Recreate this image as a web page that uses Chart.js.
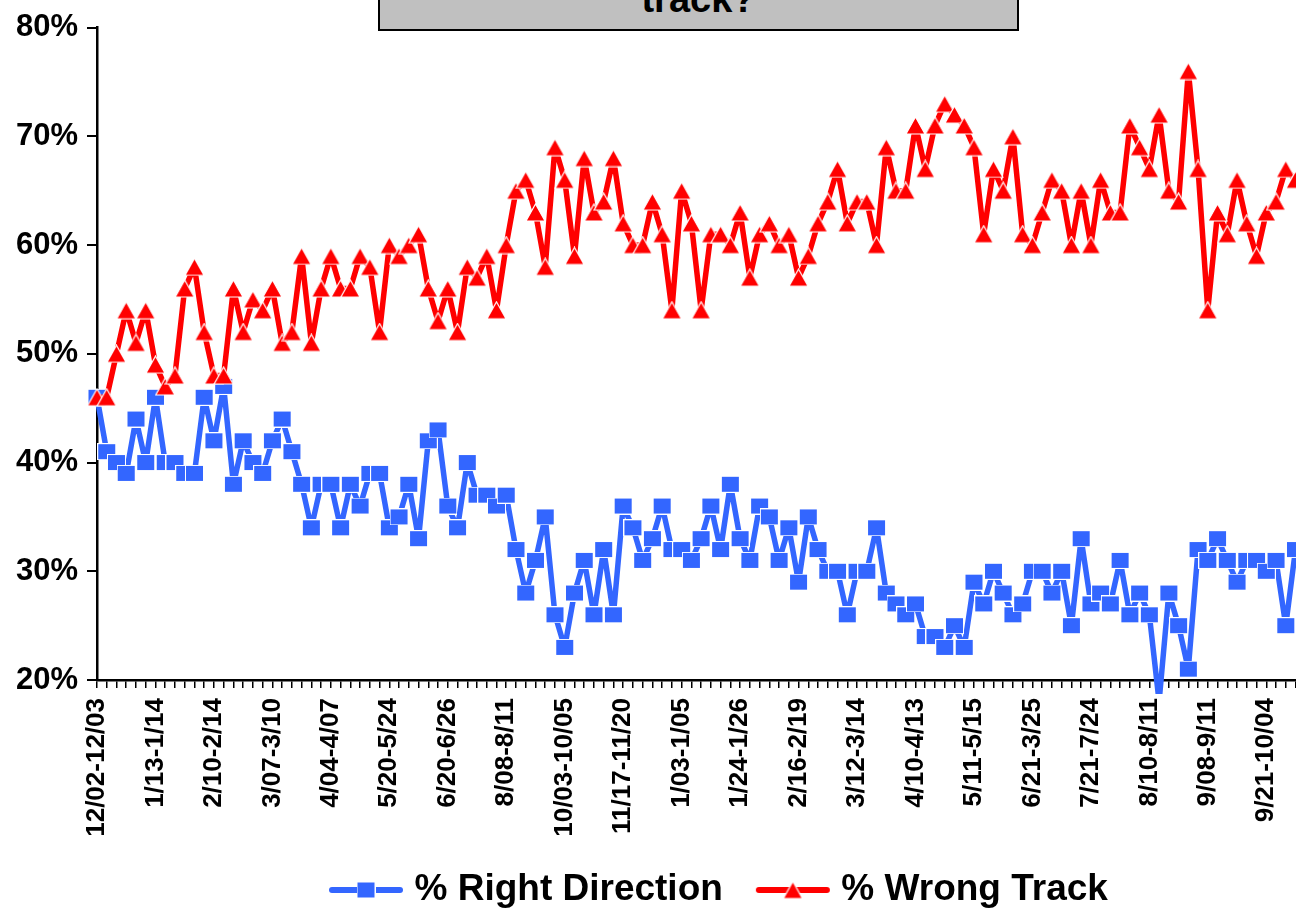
<!DOCTYPE html>
<html>
<head>
<meta charset="utf-8">
<title>Right Direction / Wrong Track</title>
<script src="https://cdn.jsdelivr.net/npm/chart.js@4.4.1/dist/chart.umd.min.js"></script>
<style>
  html, body { margin: 0; padding: 0; background: #fff; overflow: hidden; }
  #wrap { position: relative; width: 1296px; height: 909px; overflow: hidden; }
  #trackChart { position: absolute; left: 0; top: 0; }
  .title-box {
    position: absolute; left: 378px; top: -30px; width: 641px; height: 61px;
    box-sizing: border-box; background: #c0c0c0; border: 2px solid #000;
    font: bold 38px "Liberation Sans", Arial, sans-serif; color: #000; text-align: center;
  }
  .title-box span { position: absolute; left: 0; right: 0; bottom: 10px; line-height: 40px; }
</style>
</head>
<body>
<div id="wrap">
  <canvas id="trackChart" width="1310" height="909"></canvas>
  <div class="title-box"><span>track?</span></div>
</div>
<script>
// --- data ---
const tickLabels = [
  '12/02-12/03', '1/13-1/14', '2/10-2/14', '3/07-3/10', '4/04-4/07', '5/20-5/24',
  '6/20-6/26', '8/08-8/11', '10/03-10/05', '11/17-11/20', '1/03-1/05', '1/24-1/26',
  '2/16-2/19', '3/12-3/14', '4/10-4/13', '5/11-5/15', '6/21-3/25', '7/21-7/24',
  '8/10-8/11', '9/08-9/11', '9/21-10/04'
];
const labelEvery = 6; // one date label on every 6th poll

const rightDirection = [
  46, 41, 40, 39, 44, 40, 46, 40, 40, 39,
  39, 46, 42, 47, 38, 42, 40, 39, 42, 44,
  41, 38, 34, 38, 38, 34, 38, 36, 39, 39,
  34, 35, 38, 33, 42, 43, 36, 34, 40, 37,
  37, 36, 37, 32, 28, 31, 35, 26, 23, 28,
  31, 26, 32, 26, 36, 34, 31, 33, 36, 32,
  32, 31, 33, 36, 32, 38, 33, 31, 36, 35,
  31, 34, 29, 35, 32, 30, 30, 26, 30, 30,
  34, 28, 27, 26, 27, 24, 24, 23, 25, 23,
  29, 27, 30, 28, 26, 27, 30, 30, 28, 30,
  25, 33, 27, 28, 27, 31, 26, 28, 26, 18,
  28, 25, 21, 32, 31, 33, 31, 29, 31, 31,
  30, 31, 25, 32
];

const wrongTrack = [
  46, 46, 50, 54, 51, 54, 49, 47, 48, 56,
  58, 52, 48, 48, 56, 52, 55, 54, 56, 51,
  52, 59, 51, 56, 59, 56, 56, 59, 58, 52,
  60, 59, 60, 61, 56, 53, 56, 52, 58, 57,
  59, 54, 60, 65, 66, 63, 58, 69, 66, 59,
  68, 63, 64, 68, 62, 60, 60, 64, 61, 54,
  65, 62, 54, 61, 61, 60, 63, 57, 61, 62,
  60, 61, 57, 59, 62, 64, 67, 62, 64, 64,
  60, 69, 65, 65, 71, 67, 71, 73, 72, 71,
  69, 61, 67, 65, 70, 61, 60, 63, 66, 65,
  60, 65, 60, 66, 63, 63, 71, 69, 67, 72,
  65, 64, 76, 67, 54, 63, 61, 66, 62, 59,
  63, 64, 67, 66
];

const seriesNames = ['% Right Direction', '% Wrong Track'];

document.addEventListener('DOMContentLoaded', () => {

  const BLUE = '#3366ff';
  const RED = '#ff0000';
  const FONT = "'Liberation Sans', Arial, sans-serif";

  // category names: date label on every 6th poll, blank in between
  const categories = rightDirection.map((v, i) =>
    i % labelEvery === 0 ? (tickLabels[i / labelEvery] || '') : '');

  // --- marker images (Excel style, thin white edge) ---
  const squareMarker = (color) => {
    const c = document.createElement('canvas');
    c.width = 19; c.height = 17;
    const g = c.getContext('2d');
    g.fillStyle = '#fff';
    g.fillRect(0, 0, 19, 17);
    g.fillStyle = color;
    g.fillRect(1, 1, 17, 15);
    return c;
  };

  const triangleMarker = (color) => {
    const c = document.createElement('canvas');
    c.width = 21; c.height = 19;
    const g = c.getContext('2d');
    g.beginPath();
    g.moveTo(10.5, 1);
    g.lineTo(20, 18);
    g.lineTo(1, 18);
    g.closePath();
    g.fillStyle = color;
    g.fill();
    g.lineWidth = 1.2;
    g.strokeStyle = '#fff';
    g.stroke();
    return c;
  };

  // legend icon = short line with the marker in the middle
  const legendIcon = (color, marker) => {
    const c = document.createElement('canvas');
    c.width = 76; c.height = 20;
    const g = c.getContext('2d');
    g.strokeStyle = color;
    g.lineWidth = 6;
    g.lineCap = 'round';
    g.beginPath();
    g.moveTo(4, 10);
    g.lineTo(72, 10);
    g.stroke();
    g.drawImage(marker, 38 - marker.width / 2, 10 - marker.height / 2);
    return c;
  };

  const blueMarker = squareMarker(BLUE);
  const redMarker = triangleMarker(RED);
  const legendIcons = [legendIcon(BLUE, blueMarker), legendIcon(RED, redMarker)];

  // nudge the legend so it sits where the original one does
  const legendPlacer = {
    id: 'legendPlacer',
    afterLayout(chart) {
      const lg = chart.legend;
      if (!lg || !lg.lineWidths) return;
      const pad = lg.options.labels.padding;
      const fontSize = lg.options.labels.font.size;
      const startX = (lg.left + pad + lg.right - lg.lineWidths[0]) / 2;
      const dx = 336 - startX;
      lg.left += dx;
      lg.right += dx;
      lg.top = 890 - fontSize / 2 - pad;
    }
  };

  const ctx = document.getElementById('trackChart');

  new Chart(ctx, {
    type: 'line',
    data: {
      labels: categories,
      datasets: [
        {
          label: seriesNames[0],
          data: rightDirection,
          borderColor: BLUE,
          backgroundColor: BLUE,
          borderWidth: 5.5,
          borderJoinStyle: 'round',
          tension: 0,
          pointStyle: blueMarker,
          pointRadius: 9,
          pointHoverRadius: 9,
          order: 1,
          clip: { left: 10, top: 10, right: 10, bottom: 14 }
        },
        {
          label: seriesNames[1],
          data: wrongTrack,
          borderColor: RED,
          backgroundColor: RED,
          borderWidth: 5.5,
          borderJoinStyle: 'round',
          tension: 0,
          pointStyle: redMarker,
          pointRadius: 9,
          pointHoverRadius: 9,
          order: 0,
          clip: { left: 10, top: 10, right: 10, bottom: 14 }
        }
      ]
    },
    options: {
      responsive: false,
      animation: false,
      events: [],
      layout: { padding: { top: 21, right: 2, left: 0, bottom: 0 } },
      scales: {
        x: {
          offset: false,
          grid: {
            display: true,
            drawOnChartArea: false,
            drawTicks: true,
            tickLength: 8,
            color: '#000',
            lineWidth: 1.5
          },
          border: { color: '#000', width: 2.5 },
          ticks: {
            autoSkip: false,
            minRotation: 90,
            maxRotation: 90,
            padding: 10,
            color: '#000',
            font: { family: FONT, size: 26, weight: 'bold' }
          },
          afterFit: (scale) => {
            const lg = scale.chart.legend;
            scale.height = 909 - 680 - (lg ? lg.height : 0);
            scale.paddingLeft = 0;
            scale.paddingRight = 0;
          }
        },
        y: {
          min: 20,
          max: 80,
          grid: {
            drawOnChartArea: false,
            drawTicks: true,
            tickLength: 10,
            color: '#000',
            lineWidth: 2
          },
          border: { color: '#000', width: 2.5 },
          ticks: {
            stepSize: 10,
            padding: 9,
            color: '#000',
            font: { family: FONT, size: 31, weight: 'bold' },
            callback: (v) => v + '%'
          },
          afterFit: (scale) => { scale.width = 97; }
        }
      },
      plugins: {
        tooltip: { enabled: false },
        title: { display: false },
        legend: {
          display: true,
          position: 'bottom',
          maxHeight: 50,
          labels: {
            usePointStyle: true,
            pointStyleWidth: 60,
            padding: 40,
            color: '#000',
            font: { family: FONT, size: 37, weight: 'bold' },
            generateLabels: (chart) => chart.data.datasets.map((ds, i) => ({
              text: ds.label,
              pointStyle: legendIcons[i],
              fillStyle: ds.borderColor,
              strokeStyle: ds.borderColor,
              lineWidth: 0,
              hidden: false,
              datasetIndex: i,
              fontColor: '#000'
            }))
          }
        }
      }
    },
    plugins: [legendPlacer]
  });
});
</script>
</body>
</html>
